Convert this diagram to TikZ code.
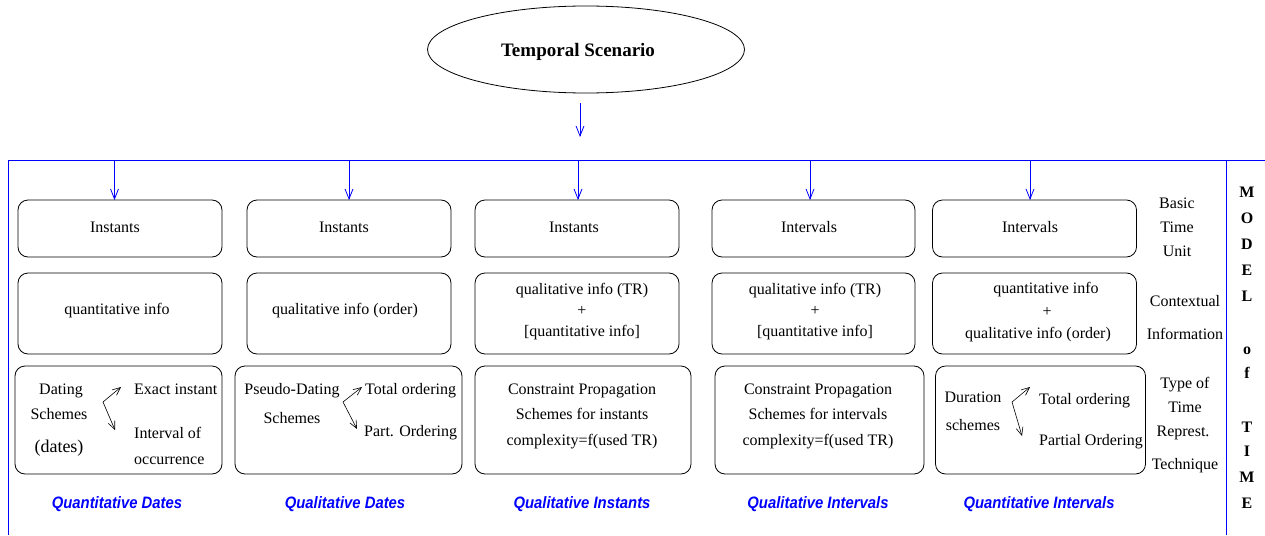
\documentclass[tikz,border=0pt]{standalone}
\usepackage{fontspec}
\setmainfont{Liberation Serif}
\newfontfamily\lblfont{Liberation Sans}
\usetikzlibrary{arrows.meta,shapes.geometric}
\begin{document}
\begin{tikzpicture}[x=1pt,y=-1pt,
  box/.style={draw, rounded corners=10pt, line width=0.8pt, inner sep=0pt, outer sep=0pt},
  txt/.style={font=\fontsize{16}{18}\selectfont, inner sep=0pt, text height=11pt, text depth=3.5pt, yshift=-2pt},
  mtxt/.style={font=\bfseries\fontsize{16}{18}\selectfont, inner sep=0pt, text height=11pt, text depth=0pt},
  lbl/.style={font=\lblfont\bfseries\itshape\fontsize{16.5}{18}\selectfont, text=blue, inner sep=0pt, xscale=0.9, transform shape},
  blueline/.style={draw=blue, line width=0.9pt},
  barrow/.style={draw=blue, line width=0.8pt, -{Straight Barb[length=10pt,width=8pt]}},
  karrow/.style={draw=black, line width=0.6pt, -{Straight Barb[length=8pt,width=7pt]}}]
\useasboundingbox (0,0) rectangle (1265,535);

% top ellipse
\node[draw, ellipse, line width=0.8pt, minimum width=317pt, minimum height=87pt, inner sep=0pt] (scen) at (586,49.5) {};
\node[font=\bfseries\fontsize{19}{22}\selectfont, inner sep=0pt] (scent) at (578,52) {Temporal Scenario};
\coordinate (a0s) at (580,103);
\coordinate (a0e) at (580,137);
\draw[barrow] (a0s) -- (a0e);

% blue frame
\coordinate (fbl) at (8.5,535);
\coordinate (ftl) at (8.5,160);
\coordinate (ftr) at (1265,160);
\coordinate (rvt) at (1226,160);
\coordinate (rvb) at (1226,535);
\draw[blueline] (fbl) -- (ftl) -- (ftr);
\draw[blueline] (rvt) -- (rvb);

% row 1 boxes
\node[box, minimum width=204pt, minimum height=57pt] (b11) at (120,228.5) {};
\node[box, minimum width=204pt, minimum height=57pt] (b12) at (349,228.5) {};
\node[box, minimum width=204pt, minimum height=57pt] (b13) at (577,228.5) {};
\node[box, minimum width=203pt, minimum height=57pt] (b14) at (813.5,228.5) {};
\node[box, minimum width=204pt, minimum height=57pt] (b15) at (1034.5,228.5) {};
% row 2 boxes
\node[box, minimum width=204pt, minimum height=81pt] (b21) at (120,313.5) {};
\node[box, minimum width=204pt, minimum height=81pt] (b22) at (349,313.5) {};
\node[box, minimum width=204pt, minimum height=81pt] (b23) at (577,313.5) {};
\node[box, minimum width=203pt, minimum height=81pt] (b24) at (813.5,313.5) {};
\node[box, minimum width=204pt, minimum height=81pt] (b25) at (1034.5,313.5) {};
% row 3 boxes
\node[box, minimum width=207pt, minimum height=108pt] (b31) at (118.5,420) {};
\node[box, minimum width=227pt, minimum height=108pt] (b32) at (348.5,420) {};
\node[box, minimum width=216pt, minimum height=108pt] (b33) at (583,420) {};
\node[box, minimum width=209pt, minimum height=108pt] (b34) at (819.5,420) {};
\node[box, minimum width=210pt, minimum height=108pt] (b35) at (1040.5,420) {};

% column arrows
\coordinate (t1) at (114.5,160);
\coordinate (t2) at (349,160);
\coordinate (t3) at (578,160);
\coordinate (t4) at (810,160);
\coordinate (t5) at (1030,160);
\draw[barrow] (t1) -- (t1 |- b11.north);
\draw[barrow] (t2) -- (t2 |- b12.north);
\draw[barrow] (t3) -- (t3 |- b13.north);
\draw[barrow] (t4) -- (t4 |- b14.north);
\draw[barrow] (t5) -- (t5 |- b15.north);

% row 1 texts
\node[txt] (r11) at (115,227) {Instants};
\node[txt] (r12) at (344,227) {Instants};
\node[txt] (r13) at (574,227) {Instants};
\node[txt] (r14) at (809,227) {Intervals};
\node[txt] (r15) at (1030,227) {Intervals};

% row 2 texts
\node[txt] (r21) at (117,309) {quantitative info};
\node[txt] (r22) at (345,309) {qualitative info (order)};
\node[txt] (r23a) at (582,289) {qualitative info (TR)};
\node[txt] (r23b) at (582,310) {+};
\node[txt] (r23c) at (582,331) {[quantitative info]};
\node[txt] (r24a) at (815,289) {qualitative info (TR)};
\node[txt] (r24b) at (815,310) {+};
\node[txt] (r24c) at (815,331) {[quantitative info]};
\node[txt] (r25a) at (1046,288) {quantitative info};
\node[txt] (r25b) at (1047,311) {+};
\node[txt] (r25c) at (1038,333) {qualitative info (order)};

% row 3 col 1
\node[txt] (d1) at (61,389) {Dating};
\node[txt] (d2) at (59,414) {Schemes};
\node[txt, font=\fontsize{18}{20}\selectfont] (d3) at (59,447) {(dates)};
\node[txt, anchor=west] (d4) at (134,389) {Exact instant};
\node[txt, anchor=west] (d5) at (134,433) {Interval of};
\node[txt, anchor=west] (d6) at (134,459) {occurrence};
\coordinate (v1) at (103,402);
\coordinate (v1u) at (121,387);
\coordinate (v1d) at (115,430);
\draw[karrow] (v1) -- (v1u);
\draw[karrow] (v1) -- (v1d);

% row 3 col 2
\node[txt] (p1) at (292,389) {Pseudo-Dating};
\node[txt] (p2) at (292,418) {Schemes};
\node[txt, anchor=west] (p3) at (365,389) {Total ordering};
\node[txt, anchor=west] (p4) at (364,431) {Part. Ordering};
\coordinate (v2) at (343,402);
\coordinate (v2u) at (362,387);
\coordinate (v2d) at (357,429);
\draw[karrow] (v2) -- (v2u);
\draw[karrow] (v2) -- (v2d);

% row 3 col 3, 4
\node[txt] (c1) at (582,389) {Constraint Propagation};
\node[txt] (c2) at (582,414) {Schemes for instants};
\node[txt] (c3) at (582,440) {complexity=f(used TR)};
\node[txt] (e1) at (818,389) {Constraint Propagation};
\node[txt] (e2) at (818,414) {Schemes for intervals};
\node[txt] (e3) at (818,440) {complexity=f(used TR)};

% row 3 col 5
\node[txt] (u1) at (973,397) {Duration};
\node[txt] (u2) at (973,425) {schemes};
\node[txt, anchor=west] (u3) at (1039,399) {Total ordering};
\node[txt, anchor=west] (u4) at (1039,440) {Partial Ordering};
\coordinate (v5) at (1012,402);
\coordinate (v5u) at (1030,387);
\coordinate (v5d) at (1022,436);
\draw[karrow] (v5) -- (v5u);
\draw[karrow] (v5) -- (v5d);

% bottom labels
\node[lbl] (l1) at (117,504) {Quantitative Dates};
\node[lbl] (l2) at (345,504) {Qualitative Dates};
\node[lbl] (l3) at (582,504) {Qualitative Instants};
\node[lbl] (l4) at (818,504) {Qualitative Intervals};
\node[lbl] (l5) at (1039,504) {Quantitative Intervals};

% right side labels
\node[txt] (s1) at (1177,203) {Basic};
\node[txt] (s2) at (1177,227) {Time};
\node[txt] (s3) at (1177,251) {Unit};
\node[txt] (s4) at (1185,301) {Contextual};
\node[txt] (s5) at (1185,334) {Information};
\node[txt] (s6) at (1185,383) {Type of};
\node[txt] (s7) at (1185,407) {Time};
\node[txt] (s8) at (1183,431) {Represt.};
\node[txt] (s9) at (1185,464) {Technique};

% MODEL of TIME
\node[mtxt] (m1) at (1247,192) {M};
\node[mtxt] (m2) at (1247,218) {O};
\node[mtxt] (m3) at (1247,244) {D};
\node[mtxt] (m4) at (1247,270) {E};
\node[mtxt] (m5) at (1247,296) {L};
\node[mtxt] (m6) at (1247,349) {o};
\node[mtxt] (m7) at (1247,373) {f};
\node[mtxt] (m8) at (1247,427) {T};
\node[mtxt] (m9) at (1247,451) {I};
\node[mtxt] (m10) at (1247,477) {M};
\node[mtxt] (m11) at (1247,503) {E};
\end{tikzpicture}
\end{document}
